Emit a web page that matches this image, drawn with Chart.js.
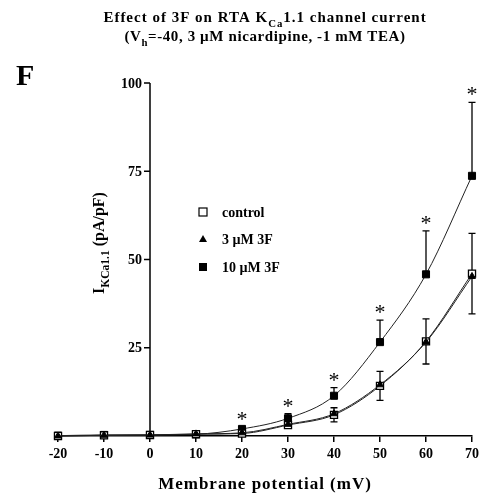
<!DOCTYPE html>
<html>
<head>
<meta charset="utf-8">
<script src="https://cdn.jsdelivr.net/npm/chart.js@4/dist/chart.umd.min.js"></script>
<style>
  html, body { margin: 0; padding: 0; background: #fff; }
</style>
</head>
<body>
<canvas id="chart" width="498" height="497"></canvas>
<script>
// membrane potential steps (mV)
const voltages = [-20, -10, 0, 10, 20, 30, 40, 50, 60, 70];
const yTicks = [25, 50, 75, 100];

// current density (pA/pF), mean and SEM
const control = [0, 0.2, 0.3, 0.5, 0.7, 3.1, 6.0, 14.2, 26.8, 46.0];
const controlErr = [0.1, 0.1, 0.1, 0.2, 0.3, 0.8, 2.0, 4.1, 6.4, 11.4];
const f3Low = [0, 0.2, 0.3, 0.6, 0.9, 3.3, 6.3, 14.5, 26.6, 45.2];
const f3High = [0.1, 0.3, 0.3, 0.5, 2.0, 5.0, 11.4, 26.6, 45.8, 73.7];
const f3HighErr = [0.1, 0.1, 0.1, 0.2, 0.6, 1.3, 2.3, 6.2, 12.3, 20.8];
const significant = [false, false, false, false, true, true, true, true, true, true];

const SERIF = '"Liberation Serif", "Times New Roman", serif';

const toPoints = arr => arr.map((v, i) => ({ x: voltages[i], y: v }));

// draws text runs with optional subscript parts, centred on cx
function richText(ctx, parts, cx, y, size, spacing) {
  const subSize = size * 0.72;
  ctx.letterSpacing = (spacing || 0) + 'px';
  let w = 0;
  parts.forEach(p => {
    ctx.font = `bold ${p[1] ? subSize : size}px ${SERIF}`;
    w += ctx.measureText(p[0]).width;
  });
  let x = cx - w / 2;
  ctx.textAlign = 'left';
  ctx.textBaseline = 'alphabetic';
  parts.forEach(p => {
    ctx.font = `bold ${p[1] ? subSize : size}px ${SERIF}`;
    ctx.fillText(p[0], x, y + (p[1] ? size * 0.3 : 0));
    x += ctx.measureText(p[0]).width;
  });
  ctx.letterSpacing = '0px';
}

const errorBars = {
  id: 'errorBars',
  beforeDatasetsDraw(chart) {
    const { ctx, scales: { x, y } } = chart;
    ctx.save();
    ctx.strokeStyle = '#000';
    ctx.lineWidth = 1.3;
    const bars = [
      [control, controlErr, true],
      [f3High, f3HighErr, false]
    ];
    bars.forEach(([means, errs, both]) => {
      means.forEach((m, i) => {
        const px = x.getPixelForValue(voltages[i]);
        const top = y.getPixelForValue(m + errs[i]);
        const bot = y.getPixelForValue(both ? m - errs[i] : m);
        ctx.beginPath();
        ctx.moveTo(px, top); ctx.lineTo(px, bot);
        ctx.moveTo(px - 3.5, top); ctx.lineTo(px + 3.5, top);
        if (both) { ctx.moveTo(px - 3.5, bot); ctx.lineTo(px + 3.5, bot); }
        ctx.stroke();
      });
    });
    ctx.restore();
  },
  afterDraw(chart) {
    const { ctx, scales: { x, y } } = chart;
    ctx.save();
    ctx.fillStyle = '#000';
    ctx.strokeStyle = '#000';

    // significance stars over the 10 uM series
    ctx.font = `22px ${SERIF}`;
    ctx.textAlign = 'center';
    ctx.textBaseline = 'alphabetic';
    significant.forEach((s, i) => {
      if (!s) return;
      const px = x.getPixelForValue(voltages[i]);
      const top = y.getPixelForValue(f3High[i] + f3HighErr[i]);
      ctx.fillText('*', px, top - 1);
    });

    // y axis drawn at 0 mV
    const ax = x.getPixelForValue(0);
    ctx.lineWidth = 1.5;
    ctx.beginPath();
    ctx.moveTo(ax, y.getPixelForValue(0));
    ctx.lineTo(ax, y.getPixelForValue(100));
    yTicks.forEach(t => {
      const py = y.getPixelForValue(t);
      ctx.moveTo(ax - 6, py); ctx.lineTo(ax, py);
    });
    ctx.stroke();
    ctx.font = `bold 14px ${SERIF}`;
    ctx.textAlign = 'right';
    ctx.textBaseline = 'middle';
    yTicks.forEach(t => ctx.fillText(String(t), ax - 8, y.getPixelForValue(t) + 1));

    // titles
    richText(ctx, [['Effect of 3F on RTA K'], ['Ca', true], ['1.1 channel current']], 265, 22, 15, 1);
    richText(ctx, [['(V'], ['h', true], ['=-40, 3 \u00b5M nicardipine, -1 mM TEA)']], 265, 41, 15, 0.6);
    ctx.font = `bold 30px ${SERIF}`;
    ctx.textAlign = 'left';
    ctx.textBaseline = 'alphabetic';
    ctx.fillText('F', 16, 85);

    // axis titles
    richText(ctx, [['Membrane potential (mV)']], 265, 489, 17, 1);
    ctx.save();
    ctx.translate(104, 243);
    ctx.rotate(-Math.PI / 2);
    richText(ctx, [['I'], ['KCa1.1', true], [' (pA/pF)']], 0, 0, 16);
    ctx.restore();

    // legend
    const lx = 203;
    const rows = [212, 239, 267];
    ctx.lineWidth = 1.2;
    ctx.fillStyle = '#fff';
    ctx.fillRect(lx - 4, rows[0] - 4, 8, 8);
    ctx.strokeRect(lx - 4, rows[0] - 4, 8, 8);
    ctx.fillStyle = '#000';
    ctx.beginPath();
    ctx.moveTo(lx, rows[1] - 4); ctx.lineTo(lx + 4, rows[1] + 3); ctx.lineTo(lx - 4, rows[1] + 3);
    ctx.closePath(); ctx.fill();
    ctx.fillRect(lx - 4, rows[2] - 4, 8, 8);
    ctx.font = `bold 14px ${SERIF}`;
    ctx.textAlign = 'left';
    ctx.textBaseline = 'middle';
    ['control', '3 \u00b5M 3F', '10 \u00b5M 3F'].forEach((t, i) => ctx.fillText(t, lx + 19, rows[i] + 1));
    ctx.restore();
  }
};

const lineStyle = {
  borderColor: '#222',
  borderWidth: 1,
  tension: 0.3,
  cubicInterpolationMode: 'monotone',
  clip: false
};

new Chart(document.getElementById('chart'), {
  type: 'line',
  data: {
    datasets: [
      Object.assign({
        label: '3 \u00b5M 3F', data: toPoints(f3Low), order: 1,
        pointStyle: 'triangle', pointRadius: 4,
        pointBackgroundColor: '#000', pointBorderColor: '#000', pointBorderWidth: 1
      }, lineStyle),
      Object.assign({
        label: 'control', data: toPoints(control), order: 2,
        pointStyle: 'rect', pointRadius: 5,
        pointBackgroundColor: '#fff', pointBorderColor: '#000', pointBorderWidth: 1.3
      }, lineStyle),
      Object.assign({
        label: '10 \u00b5M 3F', data: toPoints(f3High), order: 3,
        pointStyle: 'rect', pointRadius: 5,
        pointBackgroundColor: '#000', pointBorderColor: '#000', pointBorderWidth: 1
      }, lineStyle)
    ]
  },
  options: {
    responsive: false,
    animation: false,
    layout: { padding: { left: 58, right: 26, top: 83, bottom: 35 } },
    plugins: { legend: { display: false }, tooltip: { enabled: false } },
    scales: {
      x: {
        type: 'linear', min: -20, max: 70,
        grid: { drawOnChartArea: false, drawTicks: true, tickLength: 6, color: '#000', lineWidth: 1.5 },
        border: { color: '#000', width: 1.5 },
        ticks: { stepSize: 10, color: '#000', padding: 4, font: { family: SERIF, size: 14, weight: 'bold' } },
        afterFit: s => { s.height = 26; s.paddingLeft = 0; s.paddingRight = 0; }
      },
      y: { display: false, min: 0, max: 100 }
    }
  },
  plugins: [errorBars]
});
</script>
</body>
</html>
